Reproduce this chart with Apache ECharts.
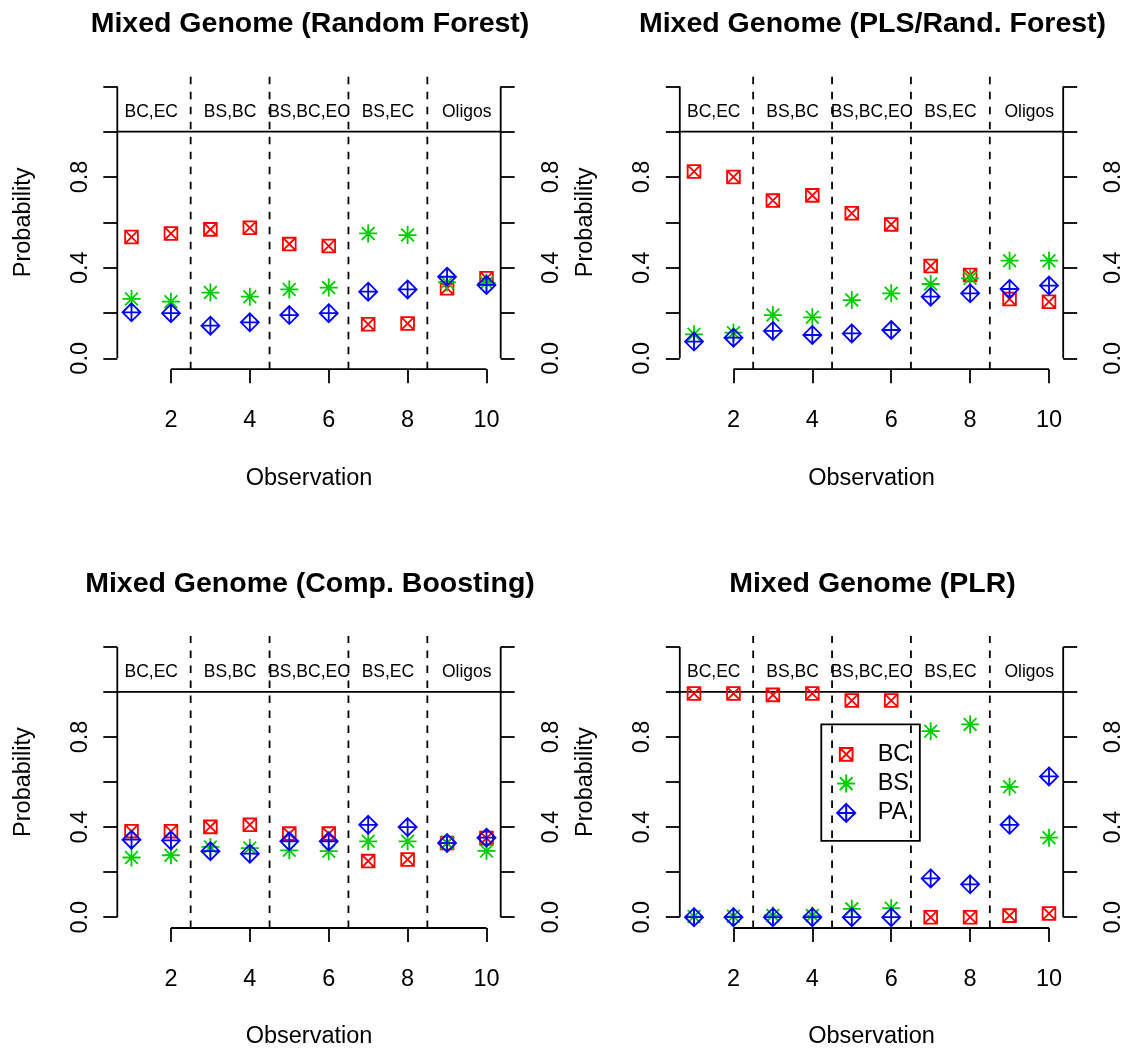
<!DOCTYPE html>
<html>
<head>
<meta charset="utf-8">
<script src="https://cdn.jsdelivr.net/npm/echarts@6/dist/echarts.min.js"></script>
<style>
html,body{margin:0;padding:0;background:#ffffff;}
#chart{width:1131px;height:1050px;}
</style>
</head>
<body>
<div id="chart"></div>
<script>
// ---------------- data ----------------
const observations = [1, 2, 3, 4, 5, 6, 7, 8, 9, 10];
const classNames = ['BC', 'BS', 'PA'];
const groupNames = ['BC,EC', 'BS,BC', 'BS,BC,EC', 'BS,EC', 'Oligos'];
const groupCenters = [1.5, 3.5, 5.5, 7.5, 9.5];
const groupBreaks = [2.5, 4.5, 6.5, 8.5];
const xTicks = [2, 4, 6, 8, 10];
const yTicks = [0, 0.2, 0.4, 0.6, 0.8, 1.0, 1.2];
const yLabelTicks = [0, 0.4, 0.8];
const refLineY = 1.0;
const groupLabelY = 1.087;
const panelTitles = [
  'Mixed Genome (Random Forest)',
  'Mixed Genome (PLS/Rand. Forest)',
  'Mixed Genome (Comp. Boosting)',
  'Mixed Genome (PLR)'
];
const xTitle = 'Observation';
const yTitle = 'Probability';

// Random Forest
const rfBC = [0.535, 0.551, 0.569, 0.576, 0.504, 0.496, 0.150, 0.154, 0.309, 0.353];
const rfBS = [0.262, 0.250, 0.290, 0.272, 0.304, 0.312, 0.551, 0.544, 0.335, 0.333];
const rfPA = [0.203, 0.199, 0.144, 0.159, 0.191, 0.199, 0.294, 0.304, 0.360, 0.324];
// PLS / Random Forest
const plsBC = [0.824, 0.800, 0.696, 0.719, 0.640, 0.591, 0.407, 0.368, 0.262, 0.250];
const plsBS = [0.106, 0.113, 0.191, 0.181, 0.257, 0.287, 0.328, 0.353, 0.431, 0.431];
const plsPA = [0.074, 0.091, 0.121, 0.103, 0.110, 0.125, 0.272, 0.287, 0.306, 0.321];
// Componentwise Boosting
const cbBC = [0.382, 0.382, 0.401, 0.410, 0.371, 0.371, 0.249, 0.256, 0.329, 0.351];
const cbBS = [0.265, 0.275, 0.312, 0.307, 0.297, 0.293, 0.337, 0.337, 0.329, 0.294];
const cbPA = [0.344, 0.341, 0.293, 0.282, 0.337, 0.337, 0.410, 0.400, 0.329, 0.353];
// PLR
const plrBC = [0.993, 0.993, 0.987, 0.993, 0.962, 0.962, 0.000, 0.000, 0.007, 0.016];
const plrBS = [0.003, 0.004, 0.008, 0.007, 0.037, 0.040, 0.826, 0.856, 0.579, 0.353];
const plrPA = [0.000, 0.000, 0.000, 0.000, 0.000, 0.000, 0.172, 0.146, 0.410, 0.625];

const panelData = [
  [rfBC, rfBS, rfPA],
  [plsBC, plsBS, plsPA],
  [cbBC, cbBS, cbPA],
  [plrBC, plrBS, plrPA]
];

// ---------------- layout / style ----------------
const FONT = 'Liberation Sans, Arial, Helvetica, sans-serif';
const BASE = 23.5;
const xMin = 0.64, xMax = 10.36;
const yMin = -0.048, yMax = 1.248;
const grids = [
  {left: 117.3, top: 75.5, width: 383.4, height: 293.7},
  {left: 679.8, top: 75.5, width: 383.4, height: 293.7},
  {left: 117.3, top: 636.1, width: 383.4, height: 293.8},
  {left: 679.8, top: 636.1, width: 383.4, height: 293.8}
];
const titlePos = [[310, 24.3], [872.5, 24.3], [310, 584.3], [872.5, 584.3]];
const colors = ['#FF0000', '#00CD00', '#0000FF'];
const PAD = 'M0,0L0,0M18,18L18,18';
const symbols = [
  'path://' + PAD + 'M2.636,2.636L15.364,2.636L15.364,15.364L2.636,15.364ZM2.636,2.636L15.364,15.364M15.364,2.636L2.636,15.364',
  'path://' + PAD + 'M9,0L9,18M0,9L18,9M2.636,2.636L15.364,15.364M15.364,2.636L2.636,15.364',
  'path://' + PAD + 'M9,0L18,9L9,18L0,9ZM0,9L18,9M9,0L9,18'
];
const LW = 1.8;

const xAxes = [], yAxes = [], series = [];
grids.forEach((g, i) => {
  xAxes.push({
    gridIndex: i, type: 'value', min: xMin, max: xMax, position: 'bottom',
    axisLine: {show: false, onZero: false},
    axisTick: {show: true, customValues: xTicks, length: 14, lineStyle: {color: '#000', width: LW}},
    axisLabel: {customValues: xTicks, margin: 39.5, fontSize: BASE, color: '#000', fontFamily: FONT},
    splitLine: {show: false},
    name: xTitle, nameLocation: 'middle', nameGap: 97,
    nameTextStyle: {fontSize: BASE, color: '#000', fontFamily: FONT}
  });
  ['left', 'right'].forEach(side => {
    yAxes.push({
      gridIndex: i, type: 'value', min: yMin, max: yMax, position: side,
      axisLine: {show: false, onZero: false},
      axisTick: {show: true, customValues: yTicks, length: 14, lineStyle: {color: '#000', width: LW}},
      axisLabel: {customValues: yLabelTicks, rotate: 90, margin: side === 'left' ? 25 : 38.5,
        fontSize: BASE, color: '#000', fontFamily: FONT, formatter: v => Number(v).toFixed(1)},
      splitLine: {show: false},
      name: side === 'left' ? yTitle : '', nameLocation: 'middle', nameRotate: 90, nameGap: 82,
      nameTextStyle: {fontSize: BASE, color: '#000', fontFamily: FONT}
    });
  });

  // decorations: axis lines, reference line, group separators
  const segs = [
    [xMin, yTicks[0], xMin, yTicks[yTicks.length - 1], 0],
    [xMax, yTicks[0], xMax, yTicks[yTicks.length - 1], 0],
    [xTicks[0], yMin, xTicks[xTicks.length - 1], yMin, 0],
    [xMin, refLineY, xMax, refLineY, 0]
  ].concat(groupBreaks.map(b => [b, yMin, b, yMax, 1]));
  series.push({
    type: 'custom', xAxisIndex: i, yAxisIndex: 2 * i, silent: true, clip: false, z: 3,
    data: segs,
    renderItem: (params, api) => {
      const p1 = api.coord([api.value(0), api.value(1)]);
      const p2 = api.coord([api.value(2), api.value(3)]);
      const dashed = api.value(4) === 1;
      return {
        type: 'line',
        shape: {x1: p1[0], y1: p1[1], x2: p2[0], y2: p2[1]},
        style: {stroke: '#000', lineWidth: LW, lineDash: dashed ? [7.5, 7.5] : null}
      };
    }
  });
  // group labels
  series.push({
    type: 'custom', xAxisIndex: i, yAxisIndex: 2 * i, silent: true, clip: false, z: 2,
    data: groupCenters.map((c, k) => [c, groupLabelY, k]),
    renderItem: (params, api) => {
      const p = api.coord([api.value(0), api.value(1)]);
      return {
        type: 'text', x: p[0], y: p[1],
        style: {text: groupNames[api.value(2)], fontSize: 17.5, fontFamily: FONT, fill: '#000',
          align: 'center', verticalAlign: 'middle'}
      };
    }
  });
  // points
  panelData[i].forEach((vals, k) => {
    series.push({
      type: 'scatter', name: classNames[k], xAxisIndex: i, yAxisIndex: 2 * i, z: 4,
      symbol: symbols[k], symbolSize: 18,
      itemStyle: {color: 'none', borderColor: colors[k], borderWidth: LW, opacity: 1},
      emphasis: {disabled: true},
      data: observations.map((x, j) => [x, vals[j]])
    });
  });
});

const option = {
  animation: false,
  backgroundColor: '#ffffff',
  textStyle: {fontFamily: FONT, color: '#000'},
  grid: grids.map(g => Object.assign({containLabel: false}, g)),
  xAxis: xAxes,
  yAxis: yAxes,
  legend: {
    data: classNames, orient: 'vertical', left: 821.3, top: 724.3,
    itemWidth: 18, itemHeight: 18, itemGap: 5.3,
    padding: [18, 9.5, 16, 13.4],
    borderColor: '#000', borderWidth: LW, backgroundColor: 'transparent',
    selectedMode: false,
    textStyle: {fontSize: BASE, color: '#000', fontFamily: FONT, padding: [0, 0, 0, 17.5]}
  },
  graphic: panelTitles.map((t, i) => ({
    type: 'text', x: titlePos[i][0], y: titlePos[i][1], silent: true,
    style: {text: t, fontSize: 28.5, fontWeight: 'bold', fontFamily: FONT, fill: '#000',
      align: 'center', verticalAlign: 'middle'}
  })),
  series: series
};

const chart = echarts.init(document.getElementById('chart'), null, {renderer: 'canvas'});
chart.setOption(option);
</script>
</body>
</html>
